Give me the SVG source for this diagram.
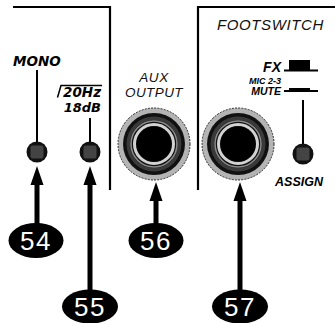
<svg xmlns="http://www.w3.org/2000/svg" width="335" height="323" viewBox="0 0 335 323">
<defs>
<style>
.panel{fill:none;stroke:#000;stroke-width:2.2}
.lead{stroke:#000;stroke-width:2;fill:none}
.shaft{stroke:#000;stroke-width:5;fill:none}
.lbl{font-family:"Liberation Sans",Arial,sans-serif;font-weight:bold;font-style:italic;fill:#000}
.lblw{font-family:"DejaVu Sans",sans-serif;font-weight:bold;font-style:oblique;fill:#000}
.thin{font-family:"Liberation Sans",Arial,sans-serif;font-style:italic;fill:#111}
.num{font-family:"Liberation Sans",Arial,sans-serif;font-size:26px;fill:#fff;text-anchor:middle;letter-spacing:1.5px}
.bub{fill:#000}
</style>
<g id="jack">
<circle r="36" fill="#b4b4b4" stroke="#222" stroke-width="1" stroke-dasharray="2 1.2"/>
<circle r="31" fill="#111"/>
<circle r="27.5" fill="#3a3a3a"/>
<circle r="24" fill="#111"/>
<circle r="23" fill="none" stroke="#8a8a8a" stroke-width="1.6"/>
<circle r="19.5" fill="none" stroke="#d2d2d2" stroke-width="3"/>
<circle r="17.5" fill="#000"/>
</g>
<g id="knob">
<circle r="10.5" fill="#111"/>
<rect x="-6.5" y="-6.5" width="13" height="13" rx="2" fill="#444"/>
</g>
<path id="ah" d="M0 0 L6.5 19 L-6.5 19 Z" fill="#000"/>
</defs>
<rect width="335" height="323" fill="#fff"/>

<g id="panels">
<path class="panel" d="M13 7 H110 V190"/>
<path class="panel" d="M335 7 H198 V190"/>
</g>

<g id="mono">
<text class="lblw" x="13" y="66" font-size="13.5">MONO</text>
<line class="lead" x1="37" y1="70" x2="37" y2="144"/>
<use href="#knob" x="37" y="152"/>
</g>

<g id="filter">
<path d="M57.5 97.5 L61 85.5 H102" fill="none" stroke="#000" stroke-width="1.5"/>
<text class="lblw" x="101" y="97" font-size="13.5" text-anchor="end">20Hz</text>
<text class="lblw" x="101" y="112" font-size="13" text-anchor="end">18dB</text>
<line class="lead" x1="90" y1="118" x2="90" y2="144"/>
<use href="#knob" x="90" y="152"/>
</g>

<g id="aux">
<text class="thin" x="154" y="82" font-size="13.5" text-anchor="middle" letter-spacing="0.6">AUX</text>
<text class="thin" x="154" y="97" font-size="13.5" text-anchor="middle" letter-spacing="0.4">OUTPUT</text>
<use href="#jack" x="154" y="144"/>
</g>

<g id="footswitch">
<text class="thin" x="217" y="30" font-size="15" letter-spacing="0.6">FOOTSWITCH</text>
<use href="#jack" x="238" y="144"/>
<text class="lbl" x="281" y="72" font-size="14" text-anchor="end">FX</text>
<rect x="289" y="60" width="21" height="10" fill="#000"/>
<line x1="284" y1="70.5" x2="318" y2="70.5" stroke="#000" stroke-width="2"/>
<text class="lbl" x="281" y="84" font-size="9" text-anchor="end">MIC 2-3</text>
<text class="lbl" x="281" y="95" font-size="10.5" text-anchor="end">MUTE</text>
<rect x="289" y="88" width="21" height="3" fill="#000"/>
<line x1="284" y1="91" x2="318" y2="91" stroke="#000" stroke-width="2"/>
<line class="lead" x1="303" y1="100" x2="303" y2="145"/>
<use href="#knob" x="303" y="154"/>
<text class="lbl" x="299" y="186" font-size="12.5" text-anchor="middle">ASSIGN</text>
</g>

<g id="connectors">
<line class="shaft" x1="37" y1="184" x2="37" y2="226"/>
<use href="#ah" x="37" y="166"/>
<line class="shaft" x1="90" y1="184" x2="90" y2="292"/>
<use href="#ah" x="90" y="166"/>
<line class="shaft" x1="156" y1="200" x2="156" y2="226"/>
<use href="#ah" x="156" y="182"/>
<line class="shaft" x1="240" y1="200" x2="240" y2="292"/>
<use href="#ah" x="240" y="182"/>
</g>

<g id="b54"><ellipse class="bub" cx="36" cy="240.5" rx="27.5" ry="17.5"/><text class="num" x="36" y="250">54</text></g>
<g id="b55"><ellipse class="bub" cx="90" cy="306.5" rx="28" ry="17"/><text class="num" x="90" y="316">55</text></g>
<g id="b56"><ellipse class="bub" cx="156" cy="240.5" rx="27.5" ry="17.5"/><text class="num" x="156" y="250">56</text></g>
<g id="b57"><ellipse class="bub" cx="240" cy="306.5" rx="28" ry="17"/><text class="num" x="240" y="316">57</text></g>
</svg>
